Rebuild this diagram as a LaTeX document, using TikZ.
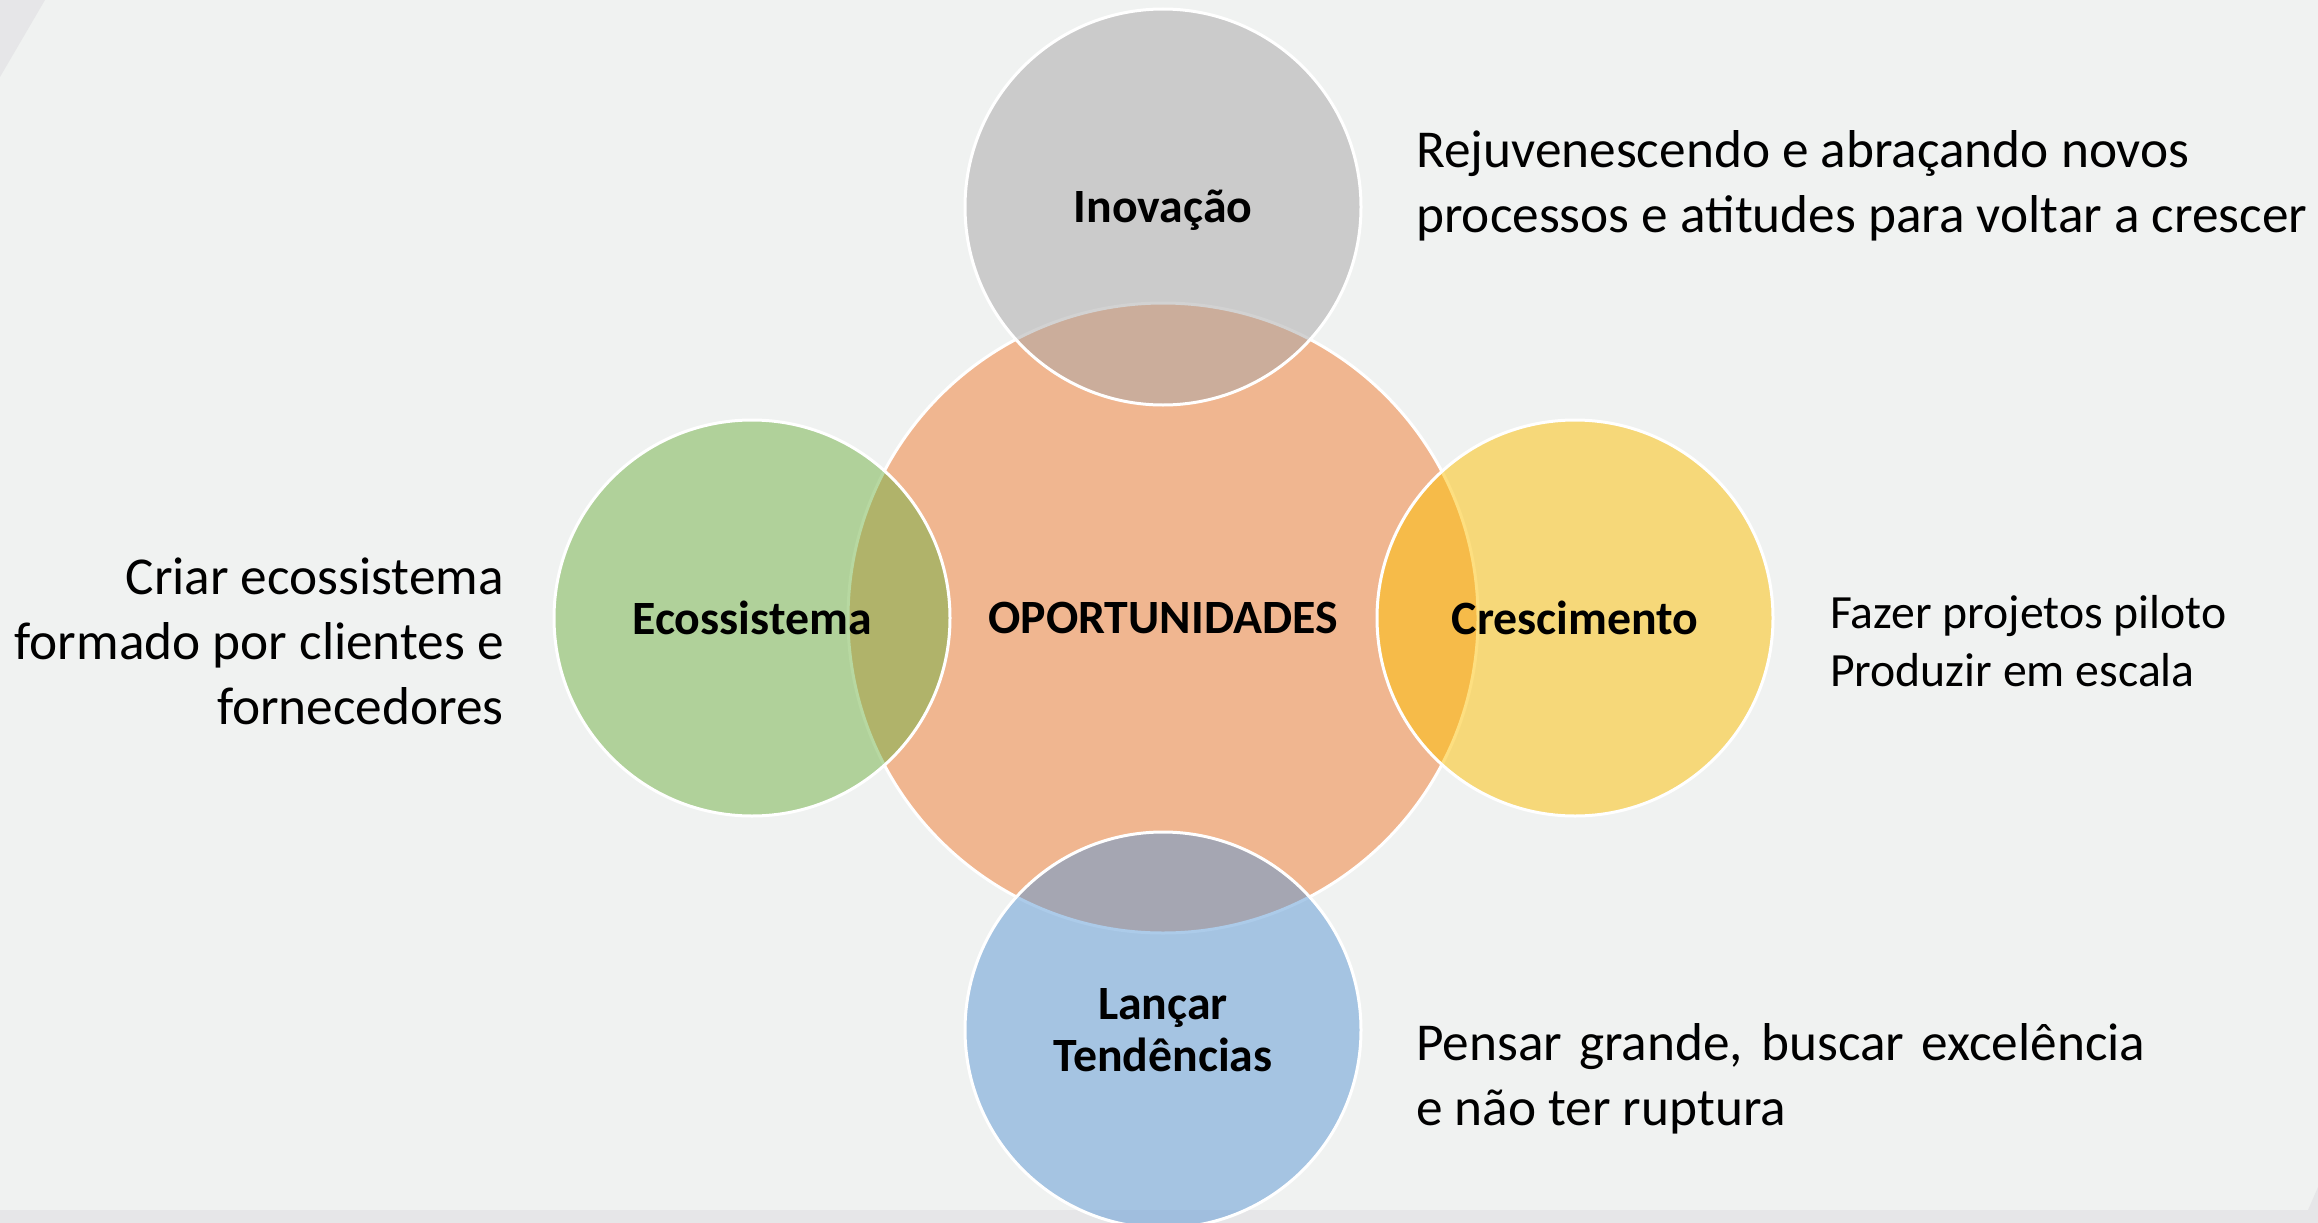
\documentclass[tikz,border=0pt]{standalone}
\usepackage{fontspec}
\setmainfont{Carlito}
\definecolor{bgc}{RGB}{240,242,241}
\definecolor{edgec}{RGB}{230,230,232}
\definecolor{orangec}{RGB}{240,182,144}
\definecolor{greyb}{RGB}{167,166,167}
\definecolor{greenb}{RGB}{113,178,69}
\definecolor{yellowb}{RGB}{253,192,3}
\definecolor{blueb}{RGB}{91,152,213}
\tikzset{
  ring/.style={circle, inner sep=0pt, draw=white, line width=3pt, align=center,
    font=\fontsize{47.8}{52}\selectfont\bfseries},
  sat/.style={ring, minimum size=396pt, fill opacity=0.5, text opacity=1},
  bigtxt/.style={inner sep=0pt, font=\fontsize{53.3}{65}\selectfont},
  smalltxt/.style={inner sep=0pt, font=\fontsize{47.7}{58}\selectfont},
}
\begin{document}
\begin{tikzpicture}[x=1pt,y=-1pt]
\path[use as bounding box] (0,0) rectangle (2318,1223);
\fill[bgc] (0,0) rectangle (2318,1223);
\fill[edgec] (0,0) -- (45,0) -- (0,77) -- cycle;
\fill[edgec] (0,1210) -- (2308,1210) -- (2318,1187) -- (2318,1223) -- (0,1223) -- cycle;

\node[ring, minimum size=630pt, fill=orangec] (opo) at (1163,618) {OPORTUNIDADES};
\node[sat, fill=greyb, text height=30.8pt, text depth=0pt] (ino) at (1163,207) {Inovação};
\node[sat, fill=greenb] (eco) at (752,618) {Ecossistema};
\node[sat, fill=yellowb] (cre) at (1575,618) {Crescimento};
\node[sat, fill=blueb] (lan) at (1163,1030) {Lançar\\Tendências};

\node[bigtxt, anchor=west, align=left] (tino) at (1416,186)
  {Rejuvenescendo e abraçando novos\\processos e atitudes para voltar a crescer};
\node[bigtxt, anchor=east, align=right] (teco) at (504,641)
  {Criar ecossistema\\formado por clientes e\\fornecedores};
\node[smalltxt, anchor=west, align=left] (tcre) at (1830,641)
  {Fazer projetos piloto\\Produzir em escala};
\node[bigtxt, anchor=west, align=left] (tlan) at (1416,1079)
  {\makebox[729pt][s]{Pensar grande, buscar excelência}\\e não ter ruptura};
\end{tikzpicture}
\end{document}
